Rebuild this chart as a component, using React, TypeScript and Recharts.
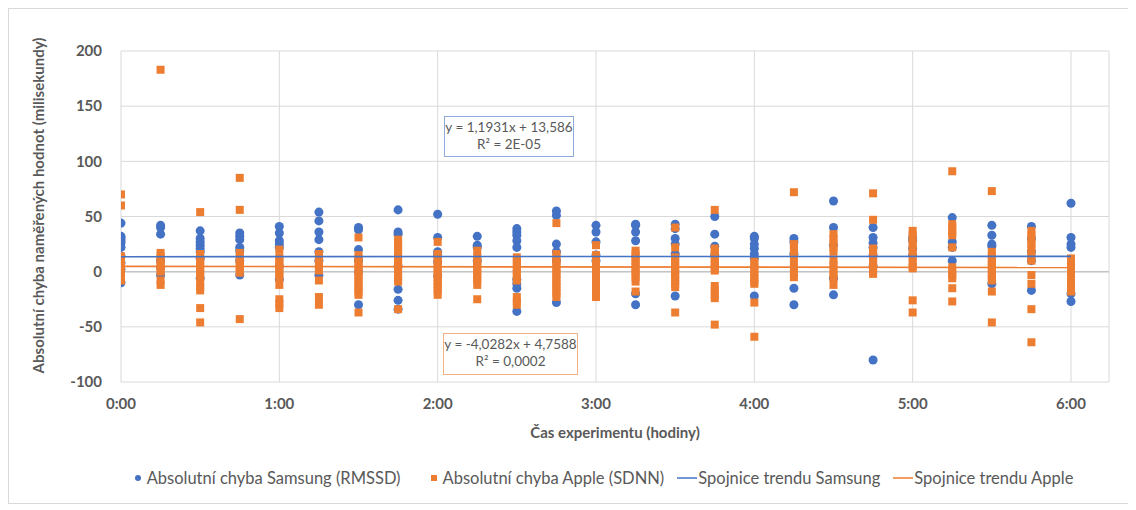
import {
  ComposedChart,
  Scatter,
  XAxis,
  YAxis,
  ZAxis,
  CartesianGrid,
  ReferenceLine,
} from "recharts"

// čas v hodinách, měření každých 15 minut
const times = [
  0, 0.25, 0.5, 0.75, 1, 1.25, 1.5, 1.75, 2, 2.25, 2.5, 2.75, 3, 3.25, 3.5,
  3.75, 4, 4.25, 4.5, 4.75, 5, 5.25, 5.5, 5.75, 6,
]

// Absolutní chyba Samsung (RMSSD), jeden řádek na časový bod
const samsung = [
  [44, 32, 30, 28, 26, 22, 14, 8, 2, -10],
  [42, 40, 34, 10, 4, -3],
  [37, 30, 27, 24, 21, 18, 12, -6],
  [35, 32, 29, 22, 19, 10, -3],
  [41, 35, 28, 25, 22, 5, -7],
  [54, 46, 36, 29, 18, 10, -3],
  [40, 38, 20, 10, 0, -30],
  [56, 36, 34, 5, -16, -26, -34],
  [52, 31, 18, 15, 9, -4],
  [32, 24, 22, 10],
  [39, 36, 33, 28, 22, -7, -11, -15, -36],
  [55, 51, 25, 18, 10, -28],
  [42, 36, 27, 15, 10],
  [43, 42, 36, 28, -20, -30],
  [43, 39, 30, 25, 16, -22],
  [50, 34, 23, 15],
  [32, 30, 25, 21, 16, 12, -22],
  [30, 27, 16, -15, -30],
  [64, 40, 24, -6, -21],
  [40, 31, 26, 22, 15, 5, -80],
  [31, 28, 21, 15],
  [49, 27, 22, 10],
  [42, 33, 25, 23, -11],
  [41, 30, 18, 10, -17],
  [62, 31, 25, 22, -20, -27],
]

// Absolutní chyba Apple (SDNN)
const apple = [
  [70, 60, 14, 12, 10, 8, 6, 4, 2, 0, -2, -4, -6, -8],
  [183, 17, 14, 11, 8, 5, 2, 0, -8, -12],
  [54, 16, 13, 10, 7, 4, 1, -2, -5, -10, -14, -17, -33, -46],
  [85, 56, 17, 14, 11, 8, 5, 2, -1, -43],
  [20, 13, 10, 7, 4, 1, -2, -5, -12, -25, -29, -33],
  [16, 13, 10, 7, 4, 1, -8, -23, -30],
  [31, 15, 12, 9, 6, 3, 0, -3, -6, -9, -12, -15, -18, -21, -37],
  [29, 26, 23, 20, 17, 14, 11, 8, 5, 2, -1, -4, -7, -9, -34],
  [27, 16, 13, 10, 7, 4, 1, -2, -5, -8, -11, -14, -17, -21],
  [19, 13, 10, 7, 4, 1, -2, -5, -8, -12, -25],
  [13, 10, 7, 4, 1, -2, -5, -8, -23, -27, -30],
  [44, 16, 13, 10, 7, 4, 1, -2, -5, -8, -11, -14, -17, -20, -23],
  [24, 15, 12, 9, 6, 3, 0, -3, -6, -9, -12, -15, -18, -21, -23],
  [19, 16, 13, 10, 7, 4, 1, -2, -5, -9, -18],
  [40, 22, 13, 10, 7, 4, 1, -2, -5, -8, -11, -14, -37],
  [56, 21, 18, 15, 12, 9, 6, 3, 1, -13, -17, -21, -24, -48],
  [9, 6, 3, 0, -3, -6, -9, -11, -28, -59],
  [72, 25, 21, 17, 13, 7, 3, -1, -5],
  [34, 30, 26, 22, 18, 10, 6, 2, -2, -5, -12],
  [71, 47, 21, 18, 15, 12, 9, 6, 3, 0, -2],
  [37, 33, 29, 25, 21, 17, 13, 9, 5, 3, -26, -37],
  [91, 43, 40, 36, 33, 22, 4, 0, -3, -6, -15, -27],
  [73, 18, 15, 12, 9, 6, 3, 0, -3, -6, -8, -18, -46],
  [37, 33, 29, 25, 21, 17, 13, 10, -3, -11, -34, -64],
  [12, 9, 6, 3, 0, -3, -6, -9, -12, -15, -18],
]

// koeficienty spojnic trendu (x v Excelu = dny)
const samsungSlope = 1.1931
const samsungIntercept = 13.586
const appleSlope = -4.0282
const appleIntercept = 4.7588

const xTicks = [0, 1, 2, 3, 4, 5, 6]
const yTicks = [-100, -50, 0, 50, 100, 150, 200]

const BLUE = "#4472C4"
const ORANGE = "#ED7D31"
const TEXT = "#595959"
const FONT = "Lato, 'Open Sans', sans-serif"

const toPoints = (rows: number[][]) =>
  rows.flatMap((vals, i) => vals.map((v) => ({ x: times[i], y: v })))

const samsungPts = toPoints(samsung)
const applePts = toPoints(apple)

const trend = (slope: number, intercept: number) =>
  [times[0], times[times.length - 1]].map((h) => ({
    x: h,
    y: intercept + slope * (h / 24),
  }))

const samsungTrend = trend(samsungSlope, samsungIntercept)
const appleTrend = trend(appleSlope, appleIntercept)

const yTitle = (props: any) => {
  const vb = props.viewBox
  const cx = vb.x + 29
  const cy = vb.y + vb.height / 2 - 11
  return (
    <text
      x={cx}
      y={cy}
      transform={`rotate(-90, ${cx}, ${cy})`}
      textAnchor="middle"
      dominantBaseline="central"
      fill={TEXT}
      fontSize={15}
      fontWeight="bold"
      fontFamily={FONT}
    >
      Absolutní chyba naměřených hodnot (milisekundy)
    </text>
  )
}

const legendItems = [
  { label: "Absolutní chyba Samsung (RMSSD)", color: BLUE, kind: "dot", gap: 27 },
  { label: "Absolutní chyba Apple (SDNN)", color: ORANGE, kind: "square", gap: 13 },
  { label: "Spojnice trendu Samsung", color: BLUE, kind: "line", gap: 13 },
  { label: "Spojnice trendu Apple", color: ORANGE, kind: "line", gap: 0 },
]

const eqBox = {
  position: "absolute" as const,
  background: "#fff",
  color: TEXT,
  fontSize: 13.5,
  lineHeight: "17px",
  textAlign: "center" as const,
  whiteSpace: "nowrap" as const,
  paddingTop: 2,
  boxSizing: "content-box" as const,
}

function App() {
  return (
    <div
      style={{
        position: "relative",
        width: 1119,
        height: 494,
        border: "1px solid #d9d9d9",
        fontFamily: FONT,
        background: "#fff",
      }}
    >
      <ComposedChart
        width={1119}
        height={440}
        margin={{ top: 42, right: 19, bottom: 7, left: 0 }}
      >
        <CartesianGrid stroke="#d9d9d9" />
        <XAxis
          type="number"
          dataKey="x"
          domain={[0, 6.24]}
          ticks={xTicks}
          tickFormatter={(h: number) => `${h}:00`}
          allowDataOverflow
          axisLine={false}
          tickLine={false}
          tickSize={0}
          tickMargin={16}
          height={60}
          tick={{ fill: TEXT, fontSize: 15, fontWeight: "bold", fontFamily: FONT }}
          label={{
            value: "Čas experimentu (hodiny)",
            position: "insideBottom",
            offset: 4,
            fill: TEXT,
            fontSize: 15,
            fontWeight: "bold",
            fontFamily: FONT,
          }}
        />
        <YAxis
          type="number"
          dataKey="y"
          domain={[-100, 200]}
          ticks={yTicks}
          allowDataOverflow
          axisLine={false}
          tickLine={false}
          tickSize={0}
          tickMargin={19}
          width={112}
          tick={{ fill: TEXT, fontSize: 15, fontWeight: "bold", fontFamily: FONT }}
          label={{ content: yTitle }}
        />
        <ZAxis range={[36, 36]} />
        <ReferenceLine y={0} stroke="#c4c4c4" strokeWidth={1.5} />
        <Scatter
          name="Absolutní chyba Samsung (RMSSD)"
          data={samsungPts}
          fill={BLUE}
          shape="circle"
          isAnimationActive={false}
        />
        <Scatter
          name="Absolutní chyba Apple (SDNN)"
          data={applePts}
          fill={ORANGE}
          shape="square"
          isAnimationActive={false}
        />
        <Scatter
          name="Spojnice trendu Samsung"
          data={samsungTrend}
          line={{ stroke: BLUE, strokeWidth: 1.6 }}
          shape={() => <g />}
          isAnimationActive={false}
        />
        <Scatter
          name="Spojnice trendu Apple"
          data={appleTrend}
          line={{ stroke: ORANGE, strokeWidth: 1.6 }}
          shape={() => <g />}
          isAnimationActive={false}
        />
      </ComposedChart>

      {/* rovnice trendů */}
      <div style={{ ...eqBox, left: 435, top: 107, width: 128, height: 37, border: "1px solid #8faadc" }}>
        <div>y = 1,1931x + 13,586</div>
        <div>R² = 2E-05</div>
      </div>
      <div style={{ ...eqBox, left: 434, top: 324, width: 133, height: 38, border: "1px solid #f4b183" }}>
        <div>y = -4,0282x + 4,7588</div>
        <div>R² = 0,0002</div>
      </div>

      {/* legenda */}
      <div
        style={{
          position: "absolute",
          left: 34,
          top: 459,
          width: 1119,
          display: "flex",
          justifyContent: "center",
          color: TEXT,
          fontSize: 16.5,
        }}
      >
        {legendItems.map((it) => (
          <div key={it.label} style={{ display: "flex", alignItems: "center", marginRight: it.gap }}>
            <svg width={it.kind === "line" ? 20 : 12} height={10} style={{ marginRight: it.kind === "line" ? 1 : 3 }}>
              {it.kind === "dot" && <circle cx={6} cy={5} r={3} fill={it.color} />}
              {it.kind === "square" && <rect x={3} y={2} width={6} height={6} fill={it.color} />}
              {it.kind === "line" && (
                <line x1={0} y1={5} x2={20} y2={5} stroke={it.color} strokeWidth={1.5} />
              )}
            </svg>
            <span>{it.label}</span>
          </div>
        ))}
      </div>
    </div>
  )
}

export default App
